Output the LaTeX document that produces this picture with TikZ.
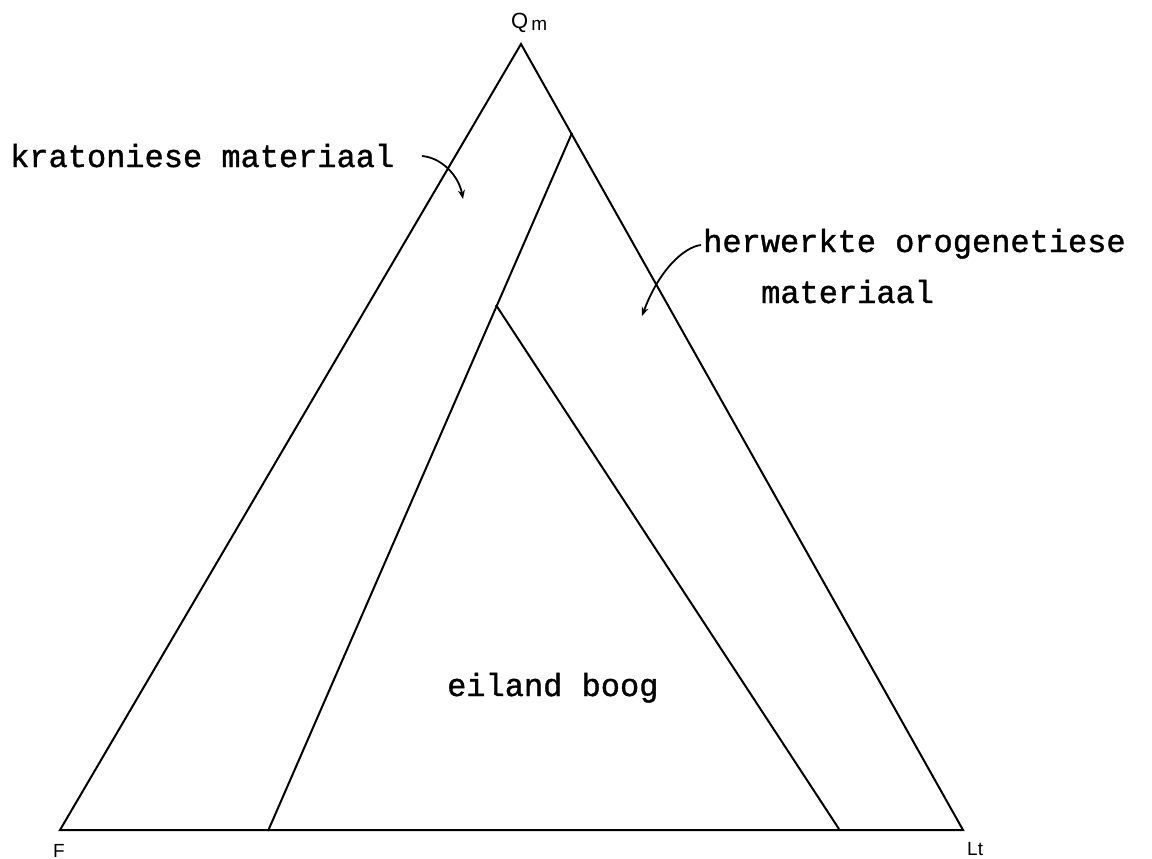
\documentclass[tikz,border=0pt]{standalone}
\usepackage{fontspec}
\setmainfont{Liberation Sans}
\newfontfamily\typew[FakeBold=1.2]{Liberation Mono}
\usetikzlibrary{arrows.meta}
\begin{document}
\begin{tikzpicture}[x=1pt,y=-1pt,
  edge/.style={line width=2pt,line join=miter},
  lbl/.style={inner sep=0pt,anchor=base west,font=\typew\fontsize{32}{36}\selectfont},
  corner/.style={inner sep=0pt,anchor=base west},
  pointer/.style={line width=1.8pt,-{Stealth[length=9pt,width=7pt]}}]
\useasboundingbox (0,0) rectangle (1152,859);
% vertices
\coordinate (Q) at (521,44);
\coordinate (F) at (60,830);
\coordinate (L) at (963,830);
\coordinate (T) at (572,133);
\coordinate (B) at (268,831);
\coordinate (A) at (496,305);
\coordinate (R) at (839,829);
% triangles
\draw[edge] (F) -- (Q) -- (L) -- cycle;
\draw[edge] (T) -- (B);
\draw[edge] (A) -- (R);
% corner labels
\node[corner,font=\fontsize{22}{22}\selectfont] (qm) at (511,29) {Q\kern3pt\raisebox{-2pt}{\fontsize{19}{19}\selectfont m}};
\node[corner,font=\fontsize{19}{19}\selectfont] (fl) at (53,857) {F};
\node[corner,font=\fontsize{19}{19}\selectfont] (lt) at (967,855) {Lt};
% region labels
\node[lbl] (kr) at (10,167) {kratoniese materiaal};
\node[lbl] (her) at (703,252) {herwerkte orogenetiese};
\node[lbl] (mat) at (761,303) {materiaal};
\node[lbl] (eb) at (447,696) {eiland boog};
% pointers
\coordinate (k1) at (422,156);
\coordinate (k2) at (463,199);
\coordinate (h1) at (701,245);
\coordinate (h2) at (642,316);
\draw[pointer] (k1) .. controls (443,158) and (459,177) .. (k2);
\draw[pointer] (h1) .. controls (684,247) and (659,270) .. (h2);
\end{tikzpicture}
\end{document}
